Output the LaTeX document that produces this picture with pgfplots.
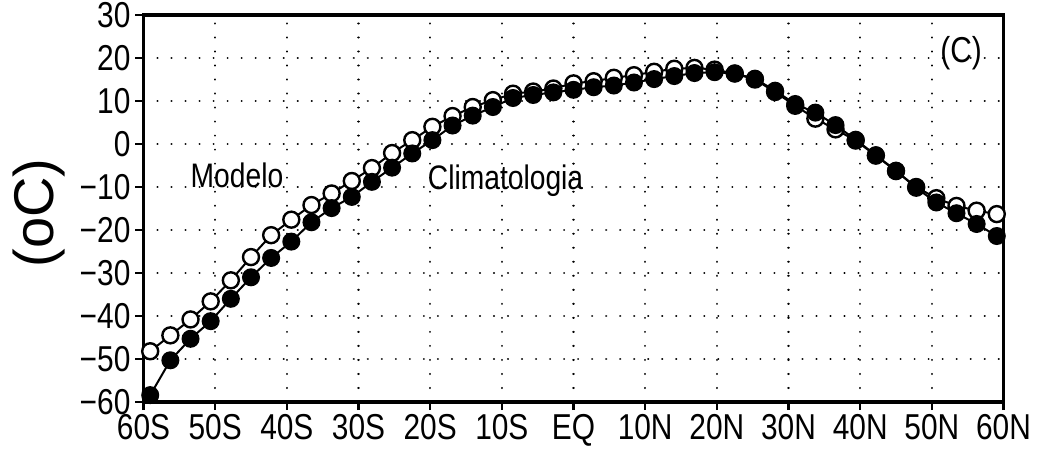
\documentclass[border=0pt]{standalone}
\usepackage{fontspec}
\setmainfont{Liberation Sans}
\newfontfamily\narrowfont{Liberation Sans}[FakeStretch=0.83]
\usepackage{pgfplots}
\pgfplotsset{compat=1.18}

% lat (2.8125 deg grid), value
\pgfplotstableread{
lat       modelo  clima
-59.0625  -48.2   -58.4
-56.25    -44.5   -50.3
-53.4375  -40.8   -45.3
-50.625   -36.6   -41.2
-47.8125  -31.7   -36.0
-45       -26.3   -31.0
-42.1875  -21.2   -26.5
-39.375   -17.6   -22.7
-36.5625  -14.2   -18.2
-33.75    -11.5   -14.9
-30.9375   -8.6   -12.3
-28.125    -5.6    -8.8
-25.3125   -2.1    -5.5
-22.5       0.9    -2.2
-19.6875    4.0     0.9
-16.875     6.5     4.3
-14.0625    8.6     6.6
-11.25     10.2     8.6
-8.4375    11.7    10.7
-5.625     12.2    11.4
-2.8125    12.9    12.0
0          14.1    12.6
2.8125     14.6    13.2
5.625      15.4    13.6
8.4375     16.0    14.3
11.25      16.8    15.1
14.0625    17.5    15.8
16.875     17.7    16.5
19.6875    17.3    16.7
22.5       16.4    16.4
25.3125    15.0    15.2
28.125     12.1    12.4
30.9375     8.9     9.3
33.75       5.9     7.3
36.5625     3.4     4.4
39.375      0.8     1.0
42.1875    -2.7    -2.6
45         -6.3    -6.2
47.8125   -10.0   -10.2
50.625    -12.6   -13.6
53.4375   -14.4   -16.1
56.25     -15.5   -18.6
59.0625   -16.3   -21.4
}\datatemp

\begin{document}
\begin{tikzpicture}
\path[use as bounding box] (-71.75pt,-24pt) rectangle (447.75pt,201pt);
\begin{axis}[
    at={(0,0)}, anchor=south west,
    scale only axis,
    width=430pt, height=193.5pt,
    xmin=-60, xmax=60, ymin=-60, ymax=30,
    xtick={-60,-50,...,60},
    xticklabels={60S,50S,40S,30S,20S,10S,EQ,10N,20N,30N,40N,50N,60N},
    ytick={-60,-50,...,30},
    yticklabels={−60,−50,−40,−30,−20,−10,0,10,20,30},
    tick pos=left,
    tick align=outside,
    major tick length=4pt,
    tick style={line width=1.2pt, black},
    axis line style={line width=1.7pt},
    grid=major,
    grid style={line width=1.1pt, dash pattern=on 0.01pt off 7pt, line cap=round, black},
    ticklabel style={font=\narrowfont\fontsize{18}{18}\selectfont},
    xticklabel style={yshift=1.5pt},
    yticklabel style={xshift=1pt},
    clip=false
]
\addplot[black, line width=1pt, mark=*, mark size=4pt,
    mark options={fill=white, line width=1.2pt}] table[x=lat, y=modelo] {\datatemp};
\addplot[black, line width=1pt, mark=*, mark size=4pt,
    mark options={fill=black}] table[x=lat, y=clima] {\datatemp};
\node[anchor=base west, font=\narrowfont\fontsize{17}{17}\selectfont] at (axis cs:-54.4,-10) {Modelo};
\node[anchor=base west, font=\narrowfont\fontsize{17}{17}\selectfont] at (axis cs:-21.3,-10.5) {Climatologia};
\node[anchor=base west, font=\narrowfont\fontsize{18}{18}\selectfont] at (axis cs:50.2,19) {(C)};
\end{axis}
\node[rotate=90, font=\fontsize{28}{28}\selectfont] at (-52pt,94.5pt) {(oC)};
\end{tikzpicture}
\end{document}
